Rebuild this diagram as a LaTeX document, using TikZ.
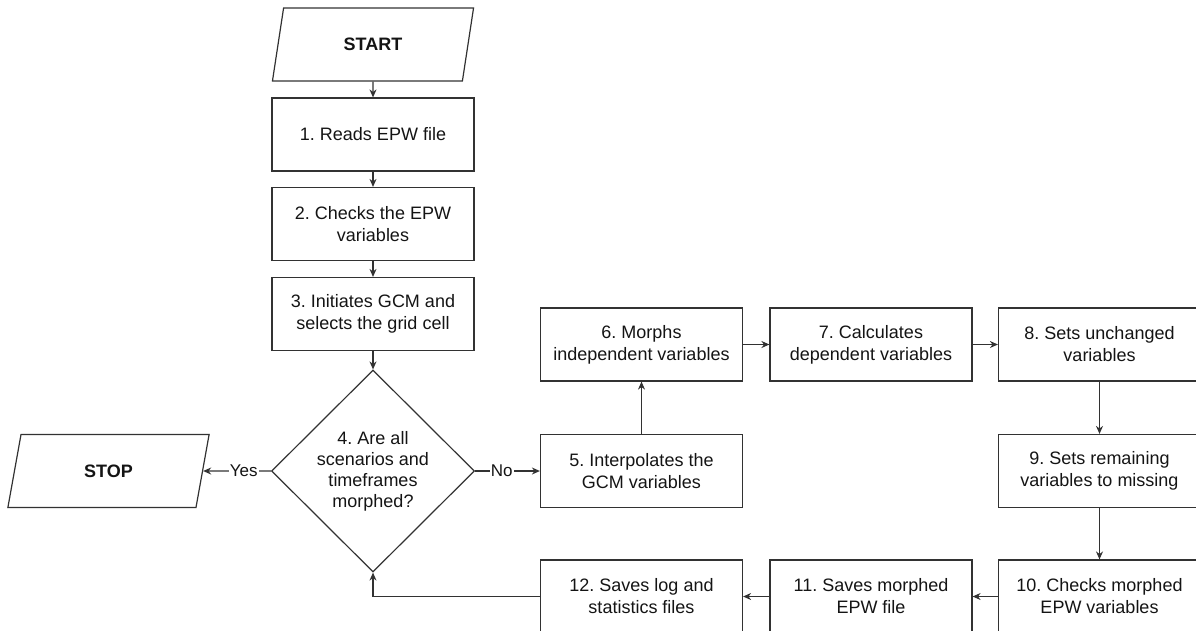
\documentclass[tikz,border=0pt]{standalone}
\usepackage{fontspec}
\setmainfont{Liberation Sans}
\usetikzlibrary{shapes.geometric,arrows.meta,calc}
\definecolor{linec}{RGB}{50,50,50}
\definecolor{textc}{RGB}{20,20,20}
\frenchspacing
\begin{document}
\begin{tikzpicture}[x=1pt,y=-1pt,
  every node/.style={font=\fontsize{18}{22}\selectfont, text=textc},
  stepbox/.style={draw=linec, line width=1.2pt, rectangle, minimum width=202pt,
    minimum height=73pt, inner sep=2pt, align=center},
  iobox/.style={draw=linec, line width=1.2pt, trapezium, trapezium left angle=74,
    trapezium right angle=106, trapezium stretches=true, minimum width=202pt,
    minimum height=73pt, inner sep=0pt, font=\fontsize{18}{22}\selectfont\bfseries},
  decision/.style={draw=linec, line width=1.2pt, diamond, aspect=1,
    minimum width=203pt, minimum height=202pt, inner sep=0pt, align=center,
    font=\fontsize{18}{21}\selectfont},
  flow/.style={draw=linec, line width=1.2pt, -{Stealth[length=8pt,width=7pt]}},
  lbl/.style={fill=white, inner sep=1pt, font=\fontsize{17}{20}\selectfont}
]
\useasboundingbox (0,0) rectangle (1196,630);
\clip (0,0) rectangle (1196,630);

% main column
\node[iobox]   (start) at (373,44.5) {START};
\node[stepbox] (b1) at (373,134.5) {1. Reads EPW file};
\node[stepbox] (b2) at (373,224)   {2. Checks the EPW\\variables};
\node[stepbox] (b3) at (373,314)   {3. Initiates GCM and\\selects the grid cell};
\node[decision] (dia) at (373,471) {4. Are all\\scenarios and\\timeframes\\morphed?};
\node[iobox]   (stop) at (108.5,471) {STOP};

% morphing loop
\node[stepbox] (b5)  at (641.5,471)   {5. Interpolates the\\GCM variables};
\node[stepbox] (b6)  at (641.5,344.5) {6. Morphs\\independent variables};
\node[stepbox] (b7)  at (871,344.5)   {7. Calculates\\dependent variables};
\node[stepbox] (b8)  at (1099.5,344.5){8. Sets unchanged\\variables};
\node[stepbox] (b9)  at (1099.5,471)  {9. Sets remaining\\variables to missing};
\node[stepbox] (b10) at (1099.5,596.5){10. Checks morphed\\EPW variables};
\node[stepbox] (b11) at (871,596.5)   {11. Saves morphed\\EPW file};
\node[stepbox] (b12) at (641.5,596.5) {12. Saves log and\\statistics files};

% connectors
\draw[flow] (start) -- (b1);
\draw[flow] (b1) -- (b2);
\draw[flow] (b2) -- (b3);
\draw[flow] (b3) -- (dia);
\draw[flow] (dia.west) -- node[lbl,pos=0.4]{Yes} (stop);
\draw[flow] (dia.east) -- node[lbl,pos=0.41]{No} (b5);
\draw[flow] (b5) -- (b6);
\draw[flow] (b6) -- (b7);
\draw[flow] (b7) -- (b8);
\draw[flow] (b8) -- (b9);
\draw[flow] (b9) -- (b10);
\draw[flow] (b10) -- (b11);
\draw[flow] (b11) -- (b12);
\draw[flow] (b12.west) -| (dia.south);
\end{tikzpicture}
\end{document}
